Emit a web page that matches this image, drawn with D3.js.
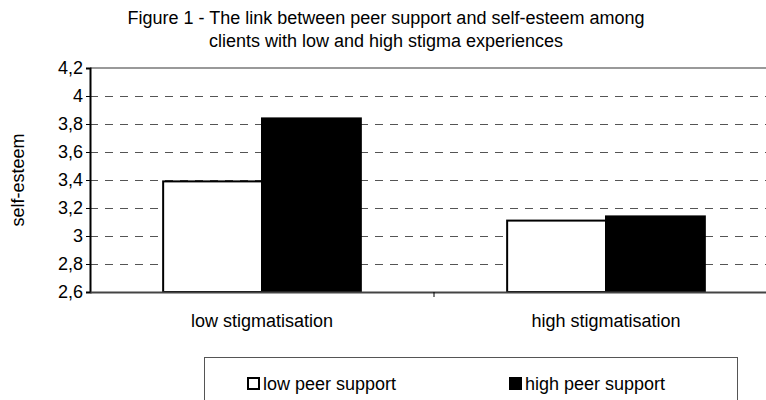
<!DOCTYPE html>
<html>
<head>
    <meta charset="utf-8">
    <script src="https://cdn.jsdelivr.net/npm/d3@7"></script>
    <style>
        body { margin: 0; background: #fff; }
        text { font-family: Arial, "Liberation Sans", sans-serif; fill: #000; }
    </style>
</head>
<body>
<script>
var categories = ["low stigmatisation", "high stigmatisation"];
var series = ["low peer support", "high peer support"];
var lowPeer = [3.39, 3.11];
var highPeer = [3.84, 3.14];
var yTicks = [2.6, 2.8, 3.0, 3.2, 3.4, 3.6, 3.8, 4.0, 4.2];
var titleLines = ["Figure 1 - The link between peer support and self-esteem among",
                  "clients with low and high stigma experiences"];
var colors = ["#fff", "#000"];

var width = 766, height = 400;
var plotLeft = 90, plotTop = 68, plotBottom = 292, plotRight = 778;

var svg = d3.select("body").append("svg")
    .attr("width", width)
    .attr("height", height);

var fmt = d3.formatLocale({decimal: ",", thousands: ".", grouping: [3], currency: ["", ""]}).format(".1~f");

var y = d3.scaleLinear().domain([2.6, 4.2]).range([plotBottom, plotTop]);
var x0 = d3.scaleBand().domain(categories).range([plotLeft, plotRight]);
var x1 = d3.scaleBand().domain(series).range([0, x0.bandwidth()]).paddingInner(0).paddingOuter(0.74);

// gridlines
svg.append("g").selectAll("line")
    .data(yTicks.slice(1, -1))
    .enter().append("line")
    .attr("x1", plotLeft).attr("x2", plotRight)
    .attr("y1", function(d){ return Math.round(y(d)) + 0.5; })
    .attr("y2", function(d){ return Math.round(y(d)) + 0.5; })
    .attr("stroke", "#555")
    .attr("stroke-dasharray", "8,7");

// top border
svg.append("line")
    .attr("x1", plotLeft).attr("x2", plotRight)
    .attr("y1", y(4.2)).attr("y2", y(4.2))
    .attr("stroke", "#999")
    .attr("stroke-width", 2);

var data = categories.map(function(c, i){
    return {cat: c, vals: [lowPeer[i], highPeer[i]]};
});

var groups = svg.append("g").selectAll("g")
    .data(data)
    .enter().append("g")
    .attr("transform", function(d){ return "translate(" + x0(d.cat) + ",0)"; });

groups.selectAll("rect")
    .data(function(d){ return d.vals.map(function(v, j){ return {s: series[j], v: v, j: j}; }); })
    .enter().append("rect")
    .attr("x", function(d){ return x1(d.s); })
    .attr("width", x1.bandwidth())
    .attr("y", function(d){ return y(d.v); })
    .attr("height", function(d){ return plotBottom - y(d.v); })
    .attr("fill", function(d){ return colors[d.j]; })
    .attr("stroke", "#000")
    .attr("stroke-width", 2);

// y axis
var yAxis = svg.append("g")
    .attr("transform", "translate(" + plotLeft + ",0)")
    .call(d3.axisLeft(y).tickValues(yTicks).tickFormat(fmt).tickSize(4).tickPadding(3));
yAxis.select(".domain").attr("stroke", "#000").attr("stroke-width", 2);
yAxis.selectAll(".tick line").attr("stroke", "#000");
yAxis.selectAll(".tick text").style("font-size", "18px").attr("fill", "#000");

// x axis
var xAxis = svg.append("g")
    .attr("transform", "translate(0," + plotBottom + ")")
    .call(d3.axisBottom(x0).tickSize(0).tickPadding(22));
xAxis.select(".domain").attr("stroke", "#444").attr("stroke-width", 2);
xAxis.selectAll(".tick text").style("font-size", "18px").attr("fill", "#000");
svg.append("line")
    .attr("x1", x0(categories[1])).attr("x2", x0(categories[1]))
    .attr("y1", plotBottom).attr("y2", plotBottom + 5)
    .attr("stroke", "#000");

// y label
svg.append("text")
    .attr("transform", "translate(24,180) rotate(-90)")
    .attr("text-anchor", "middle")
    .style("font-size", "18px")
    .text("self-esteem");

// title
svg.append("g").selectAll("text")
    .data(titleLines)
    .enter().append("text")
    .attr("x", 386)
    .attr("y", function(d, i){ return 24 + i * 23; })
    .attr("text-anchor", "middle")
    .style("font-size", "18px")
    .text(function(d){ return d; });

// legend
var legend = svg.append("g");
legend.append("rect")
    .attr("x", 204.5).attr("y", 357.5)
    .attr("width", 533).attr("height", 60)
    .attr("fill", "none")
    .attr("stroke", "#555");
var legX = [247, 509];
var items = legend.selectAll("g.item")
    .data(series)
    .enter().append("g")
    .attr("class", "item")
    .attr("transform", function(d, i){ return "translate(" + legX[i] + ",377)"; });
items.append("rect")
    .attr("x", 1).attr("y", 1)
    .attr("width", 11).attr("height", 11)
    .attr("fill", function(d, i){ return colors[i]; })
    .attr("stroke", "#000")
    .attr("stroke-width", 2);
items.append("text")
    .attr("x", 16).attr("y", 13)
    .style("font-size", "18px")
    .text(function(d){ return d; });
</script>
</body>
</html>
